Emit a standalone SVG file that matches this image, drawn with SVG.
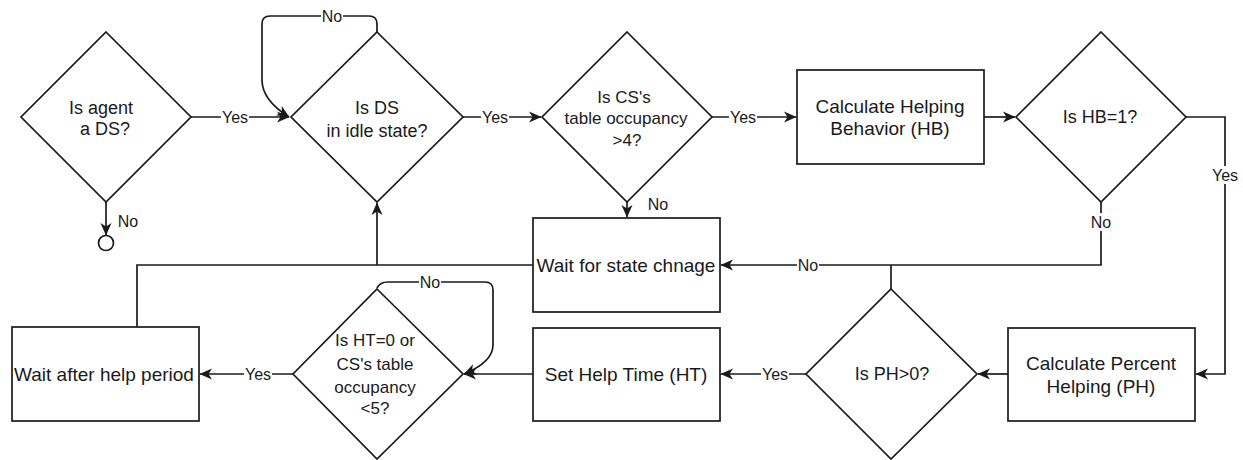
<svg xmlns="http://www.w3.org/2000/svg" width="1243" height="460" viewBox="0 0 1243 460">
<style>
.shape{fill:#fff;stroke:#1a1a1a;stroke-width:1.7}
.conn{fill:none;stroke:#1a1a1a;stroke-width:1.7}
.t{font-family:"Liberation Sans",Arial,sans-serif;font-size:18px;fill:#1a1a1a;text-anchor:middle}
.tb{font-family:"Liberation Sans",Arial,sans-serif;font-size:19px;fill:#1a1a1a;text-anchor:middle}
.ts{font-family:"Liberation Sans",Arial,sans-serif;font-size:17px;fill:#1a1a1a;text-anchor:middle}
.lbl{font-family:"Liberation Sans",Arial,sans-serif;font-size:16px;fill:#1a1a1a;text-anchor:middle}
.bg{fill:#fff}
</style>
<defs>
<marker id="arr" markerUnits="userSpaceOnUse" markerWidth="14" markerHeight="12" refX="12" refY="6" orient="auto">
<path d="M0,0.5 L12.5,6 L0,11.5 L3.5,6 Z" fill="#1a1a1a"/>
</marker>
</defs>
<rect width="1243" height="460" fill="#fff"/>

<g id="connectors">
<path class="conn" d="M191,117 H289" marker-end="url(#arr)"/>
<path class="conn" d="M106,202 V235" marker-end="url(#arr)"/>
<circle class="shape" cx="106" cy="243" r="7.5"/>
<path class="conn" d="M377,32 V24 Q377,16 369,16 H270 Q262,16 262,24 V80 Q262,100 289,117" marker-end="url(#arr)"/>
<path class="conn" d="M463,117 H541" marker-end="url(#arr)"/>
<path class="conn" d="M712,117 H796" marker-end="url(#arr)"/>
<path class="conn" d="M627,202 V217" marker-end="url(#arr)"/>
<path class="conn" d="M984,117 H1015" marker-end="url(#arr)"/>
<path class="conn" d="M1186,117 H1225 V374 H1196" marker-end="url(#arr)"/>
<path class="conn" d="M1101,202 V265 H721" marker-end="url(#arr)"/>
<path class="conn" d="M891,289 V265"/>
<path class="conn" d="M1008,374 H978" marker-end="url(#arr)"/>
<path class="conn" d="M806,374 H721" marker-end="url(#arr)"/>
<path class="conn" d="M533,374 H464" marker-end="url(#arr)"/>
<path class="conn" d="M377,288 Q380,282 388,282 H485 Q493,282 493,290 V345 Q493,362 464,374" marker-end="url(#arr)"/>
<path class="conn" d="M293,374 H200" marker-end="url(#arr)"/>
<path class="conn" d="M137,327 V265 H533"/>
<path class="conn" d="M377,265 V203" marker-end="url(#arr)"/>

<rect class="bg" x="221" y="108" width="28" height="18"/>
<text class="lbl" x="235" y="123">Yes</text>
<text class="lbl" x="128" y="227">No</text>
<rect class="bg" x="321" y="7" width="22" height="18"/>
<text class="lbl" x="332" y="22">No</text>
<rect class="bg" x="481" y="108" width="28" height="18"/>
<text class="lbl" x="495" y="123">Yes</text>
<rect class="bg" x="729" y="108" width="28" height="18"/>
<text class="lbl" x="743" y="123">Yes</text>
<text class="lbl" x="658" y="210">No</text>
<rect class="bg" x="1211" y="166" width="28" height="18"/>
<text class="lbl" x="1225" y="181">Yes</text>
<rect class="bg" x="1090" y="213" width="22" height="18"/>
<text class="lbl" x="1101" y="228">No</text>
<rect class="bg" x="797" y="256" width="22" height="18"/>
<text class="lbl" x="808" y="271">No</text>
<rect class="bg" x="761" y="365" width="28" height="18"/>
<text class="lbl" x="775" y="380">Yes</text>
<rect class="bg" x="419" y="273" width="22" height="18"/>
<text class="lbl" x="430" y="288">No</text>
<rect class="bg" x="244" y="365" width="28" height="18"/>
<text class="lbl" x="258" y="380">Yes</text>
</g>

<g id="d1">
<polygon class="shape" points="106,32 191,117 106,202 21,117"/>
<text class="t" x="101" y="114">Is agent</text>
<text class="t" x="105" y="135">a DS?</text>
</g>
<g id="d2">
<polygon class="shape" points="377,32 463,117 377,202 291,117"/>
<text class="t" x="377" y="114">Is DS</text>
<text class="t" x="377" y="137">in idle state?</text>
</g>
<g id="d3">
<polygon class="shape" points="627,32 712,117 627,202 542,117"/>
<text class="ts" x="624" y="103">Is CS's</text>
<text class="ts" x="626" y="124">table occupancy</text>
<text class="ts" x="627" y="146">&gt;4?</text>
</g>
<g id="b_hb">
<rect class="shape" x="797" y="70" width="187" height="94"/>
<text class="tb" x="890" y="113">Calculate Helping</text>
<text class="tb" x="890" y="135">Behavior (HB)</text>
</g>
<g id="d4">
<polygon class="shape" points="1101,32 1186,117 1101,202 1016,117"/>
<text class="t" x="1100" y="123">Is HB=1?</text>
</g>
<g id="b_ph">
<rect class="shape" x="1008" y="328" width="187" height="93"/>
<text class="tb" x="1101" y="370">Calculate Percent</text>
<text class="tb" x="1101" y="393">Helping (PH)</text>
</g>
<g id="d5">
<polygon class="shape" points="891,289 977,374 891,459 806,374"/>
<text class="t" x="892" y="380">Is PH&gt;0?</text>
</g>
<g id="b_wait_state">
<rect class="shape" x="533" y="218" width="187" height="94"/>
<text class="tb" x="626" y="272">Wait for state chnage</text>
</g>
<g id="b_ht">
<rect class="shape" x="533" y="328" width="187" height="93"/>
<text class="tb" x="626" y="381">Set Help Time (HT)</text>
</g>
<g id="d6">
<polygon class="shape" points="377,289 463,374 377,459 293,374"/>
<text class="ts" x="375" y="346">Is HT=0 or</text>
<text class="ts" x="375" y="370">CS's table</text>
<text class="ts" x="375" y="393">occupancy</text>
<text class="ts" x="375" y="414">&lt;5?</text>
</g>
<g id="b_wait_help">
<rect class="shape" x="12" y="327" width="187" height="94"/>
<text class="tb" x="104" y="381">Wait after help period</text>
</g>
</svg>
